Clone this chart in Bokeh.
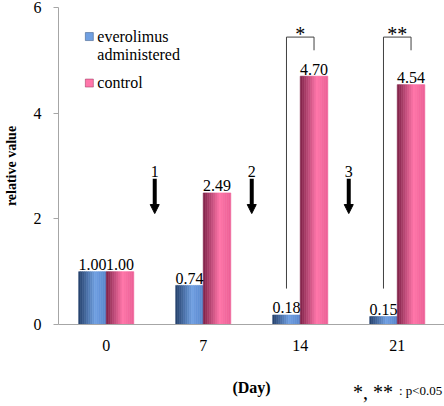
import numpy as np
from bokeh.plotting import figure
from bokeh.models import (Range1d, FixedTicker, Arrow, NormalHead, ColumnDataSource,
                          LinearAxis)
from bokeh.core.properties import value
from bokeh.embed import file_html
from bokeh.resources import INLINE

# ---- data ----
days = ["0", "7", "14", "21"]
everolimus = [1.00, 0.74, 0.18, 0.15]
control = [1.00, 2.49, 4.70, 4.54]
arrow_labels = ["1", "2", "3"]
arrow_top = [2.76, 2.76, 2.76]
arrow_bottom = [2.10, 2.10, 2.10]
sig_day_index = [2, 3]
sig_marks = ["*", "**"]
sig_low = [0.68, 0.68]
sig_high = [5.44, 5.44]
sig_right_end = [5.19, 5.19]
yticks = [0, 2, 4, 6]
legend_labels = [["everolimus", "administered"], ["control"]]
footnote_marks = "*, **"
footnote_text = ": p<0.05"

FONT = "Liberation Serif"
W = 0.284
OFF = W / 2

p = figure(width=444, height=406, output_backend="svg", toolbar_location=None,
           x_range=Range1d(-0.492, 3.487), y_range=Range1d(0, 6),
           min_border_left=56, min_border_right=0, min_border_top=7, min_border_bottom=82)
p.outline_line_color = None
p.grid.grid_line_color = None
p.background_fill_color = "white"
p.border_fill_color = "white"

# ---- gradient bars ----
def lerp(c1, c2, t):
    return tuple(int(round(a + (b - a) * t)) for a, b in zip(c1, c2))

def grad(t, dark, light, edge):
    if t < 0.6:
        c = lerp(dark, light, t / 0.6)
    else:
        c = lerp(light, edge, (t - 0.6) / 0.4)
    return "#%02x%02x%02x" % c

BLUE = ((35, 62, 105), (112, 160, 226), (88, 134, 204))
PINK = ((125, 32, 70), (255, 118, 170), (236, 96, 150))
N = 14
L, R, T, C = [], [], [], []
for vals, sign, pal in [(everolimus, -1, BLUE), (control, 1, PINK)]:
    for i, v in enumerate(vals):
        c = i + sign * OFF
        for k in range(N):
            l = c - W / 2 + k * W / N
            L.append(l)
            R.append(l + W / N)
            T.append(v)
            C.append(grad((k + 0.5) / N, *pal))
src = ColumnDataSource(dict(left=L, right=R, top=T, bottom=[0] * len(T), color=C))
p.quad(left="left", right="right", top="top", bottom="bottom", fill_color="color",
       line_color="color", line_width=0.6, source=src)

TF = value(FONT)

# ---- value labels ----
lx = [i - OFF for i in range(len(days))] + [i + OFF for i in range(len(days))]
ly = everolimus + control
lt = ["%.2f" % v for v in ly]
p.text(x=lx, y=ly, text=lt, text_font=TF, text_font_size="16px",
       text_align="center", text_baseline="alphabetic", y_offset=-7, text_color="black")

# ---- arrows ----
ax = [i + 0.5 for i in range(len(arrow_labels))]
asrc = ColumnDataSource(dict(x=ax, y0=arrow_top, y1=arrow_bottom))
p.add_layout(Arrow(x_start="x", y_start="y0", x_end="x", y_end="y1", source=asrc,
                   line_width=4, line_color="black",
                   end=NormalHead(size=9, fill_color="black", line_color="black")))
p.text(x=ax, y=arrow_top, text=arrow_labels, text_font=TF, text_font_size="16px",
       text_align="center", text_baseline="alphabetic", y_offset=-7, text_color="black")

# ---- significance brackets ----
xs, ys = [], []
for d, lo, hi, re in zip(sig_day_index, sig_low, sig_high, sig_right_end):
    xs.append([d - OFF, d - OFF, d + OFF, d + OFF])
    ys.append([lo, hi, hi, re])
p.multi_line(xs=xs, ys=ys, line_color="#404040", line_width=1)
p.text(x=[d for d in sig_day_index], y=sig_high, text=sig_marks, text_font=TF,
       text_font_size="20px", text_align="center", text_baseline="alphabetic",
       y_offset=-3, text_color="black")

# ---- legend (manual) ----
p.rect(x=[-0.174, -0.174], y=[5.45, 4.57], width=8, height=8, width_units="screen",
       height_units="screen", fill_color=[grad(0.6, *BLUE), grad(0.6, *PINK)],
       line_color=[grad(0.1, *BLUE), grad(0.1, *PINK)], line_width=0.5)
p.text(x=[-0.092] * 3, y=[5.45, 5.11, 4.58],
       text=legend_labels[0] + legend_labels[1], text_font=TF,
       text_font_size="16px", text_align="left", text_baseline="middle", text_color="black")

# ---- axes ----
p.xaxis.ticker = FixedTicker(ticks=list(range(len(days))))
p.xaxis.major_label_overrides = {i: d for i, d in enumerate(days)}
p.xaxis.major_tick_line_color = None
p.xaxis.major_tick_out = 0
p.xaxis.major_tick_in = 0
p.xaxis.minor_tick_line_color = None
p.xaxis.axis_line_color = "#a6a6a6"
p.xaxis.major_label_text_font = FONT
p.xaxis.major_label_text_font_size = "16px"
p.xaxis.major_label_text_color = "black"
p.xaxis.major_label_standoff = 15
p.xaxis.axis_label = "(Day)"
p.xaxis.axis_label_text_font = FONT
p.xaxis.axis_label_text_font_style = "bold"
p.xaxis.axis_label_text_font_size = "16px"
p.xaxis.axis_label_text_color = "black"
p.xaxis.axis_label_standoff = 25

p.yaxis.ticker = FixedTicker(ticks=yticks)
p.yaxis.minor_tick_line_color = None
p.yaxis.major_tick_out = 5
p.yaxis.major_tick_in = 0
p.yaxis.major_tick_line_color = "#a6a6a6"
p.yaxis.axis_line_color = "#a6a6a6"
p.yaxis.major_label_text_font = FONT
p.yaxis.major_label_text_font_size = "16px"
p.yaxis.major_label_text_color = "black"
p.yaxis.major_label_standoff = 12
p.yaxis.axis_label = "relative value"
p.yaxis.axis_label_text_font = FONT
p.yaxis.axis_label_text_font_style = "bold"
p.yaxis.axis_label_text_font_size = "14px"
p.yaxis.axis_label_text_color = "black"
p.yaxis.axis_label_standoff = 12

# ---- footnote: label-only axes pulled up into the "(Day)" row ----
def note_axis(pos, text, size, standoff):
    a = LinearAxis(ticker=FixedTicker(ticks=[pos]), major_label_overrides={pos: text},
                   axis_line_color=None, major_tick_line_color=None,
                   minor_tick_line_color=None, major_tick_out=0, major_tick_in=0,
                   minor_tick_out=0, minor_tick_in=0,
                   major_label_text_font=FONT, major_label_text_font_size=size,
                   major_label_text_color="black", major_label_standoff=standoff)
    p.add_layout(a, "below")

note_axis(3.241, footnote_text, "13px", -16)
note_axis(2.749, footnote_marks, "20px", -20)

open("out.html", "w").write(file_html(p, INLINE))
